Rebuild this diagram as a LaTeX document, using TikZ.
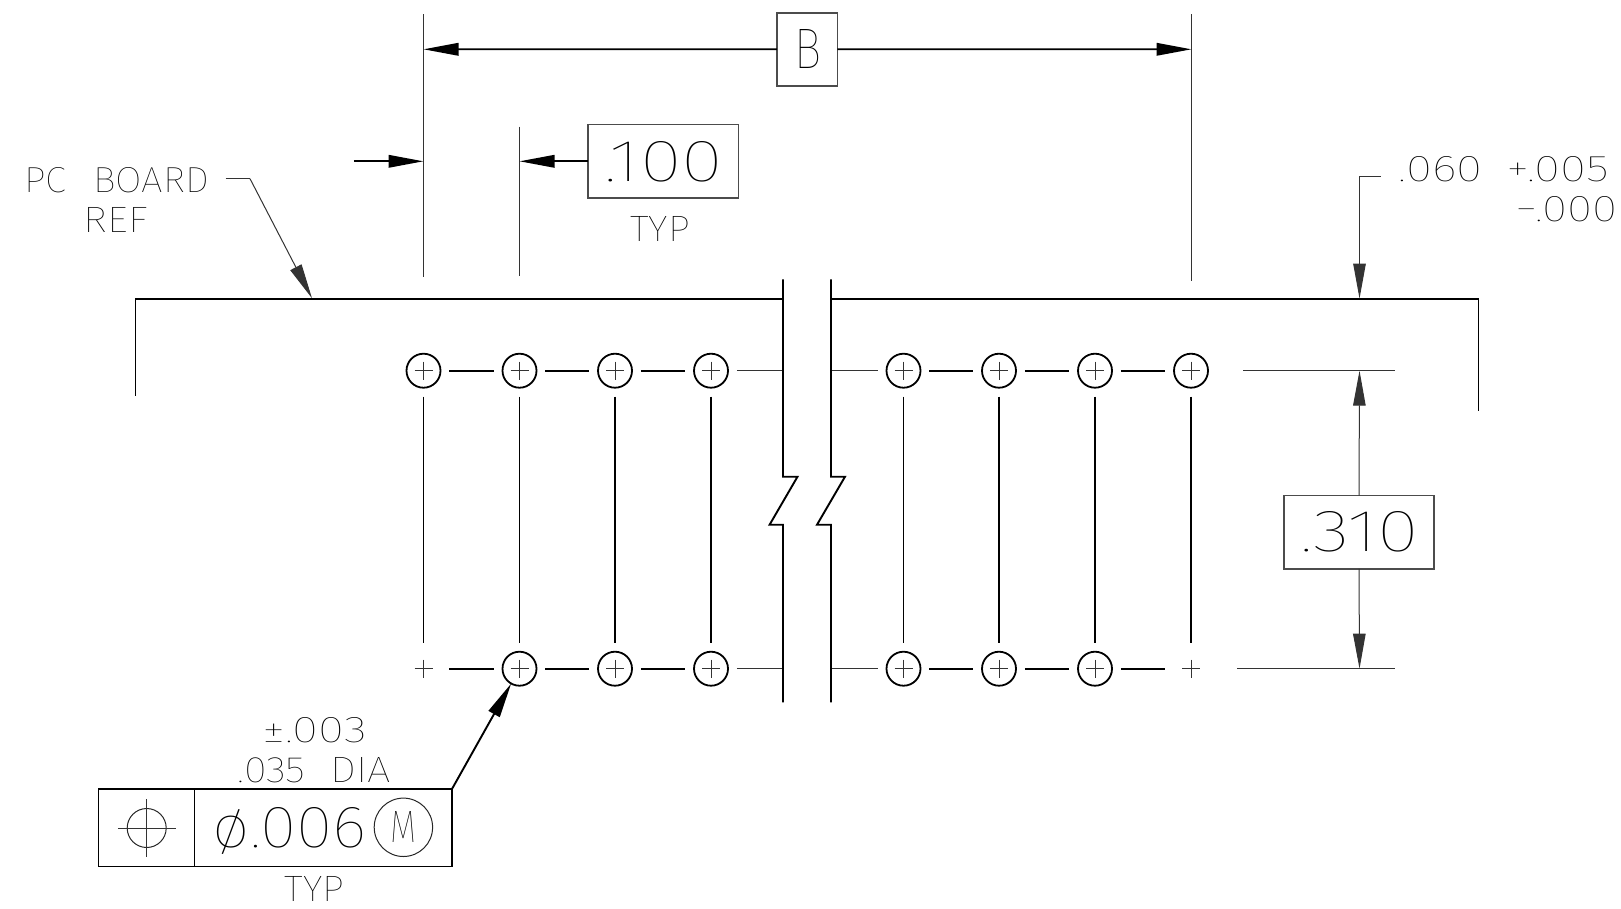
\documentclass[tikz,border=0pt]{standalone}
\usepackage{graphicx}
\usepackage{fontspec}
\usetikzlibrary{arrows.meta,calc}
\newfontfamily\thinf{Fira Sans Thin}
\newcommand{\ft}[3]{\resizebox{#1pt}{#2pt}{\thinf #3}}
\tikzset{
  txt/.style={inner sep=0pt,outer sep=0pt,anchor=center,text=black},
  thinl/.style={line width=1pt,draw=black!80},
  midl/.style={line width=1.9pt,draw=black},
  heavy/.style={line width=2.2pt,draw=black},
  boxn/.style={draw=black!70,line width=1.6pt,inner sep=0pt,outer sep=0pt,rectangle,fill=none},
  tip/.style={-{Triangle[length=35pt,width=12.5pt]}},
  hole/.style={circle,draw=black,line width=1.8pt,inner sep=0pt,outer sep=0pt,minimum size=34pt,
    path picture={\draw[line width=.9pt,draw=black!80]
      ($(path picture bounding box.center)+(-9,0)$)--($(path picture bounding box.center)+(9,0)$)
      ($(path picture bounding box.center)+(0,-9)$)--($(path picture bounding box.center)+(0,9)$);}},
  blank/.style={hole,draw=none},
  gapl/.style={shorten >=8.8pt,shorten <=8.8pt},
}
\begin{document}
\begin{tikzpicture}[x=1pt,y=-1pt]
\useasboundingbox (0,0) rectangle (1621,908);
% holes
\node[hole]  (t1) at (423.5,370.7) {};
\node[hole]  (t2) at (519.5,370.7) {};
\node[hole]  (t3) at (615,370.7) {};
\node[hole]  (t4) at (711,370.7) {};
\node[hole]  (t5) at (903.5,370.7) {};
\node[hole]  (t6) at (999,370.7) {};
\node[hole]  (t7) at (1095,370.7) {};
\node[hole]  (t8) at (1191,370.7) {};
\node[blank] (b1) at (423.5,668.7) {};
\node[hole]  (b2) at (519.5,668.7) {};
\node[hole]  (b3) at (615,668.7) {};
\node[hole]  (b4) at (711,668.7) {};
\node[hole]  (b5) at (903.5,668.7) {};
\node[hole]  (b6) at (999,668.7) {};
\node[hole]  (b7) at (1095,668.7) {};
\node[blank] (b8) at (1191,668.7) {};
% vertical and horizontal centre lines between holes
\foreach \i in {1,...,8}{\draw[midl,gapl] (t\i) -- (b\i);}
\foreach \a/\b in {1/2,2/3,3/4,5/6,6/7,7/8}{
  \draw[heavy,gapl] (t\a) -- (t\b);
  \draw[heavy,gapl] (b\a) -- (b\b);
}
% thin centre lines running to the break
\coordinate (brkL1) at (783,370.7);
\coordinate (brkR1) at (831,370.7);
\coordinate (brkL2) at (783,668.7);
\coordinate (brkR2) at (831,668.7);
\draw[thinl,shorten <=8.8pt] (t4) -- (brkL1);
\draw[thinl,shorten <=8.8pt] (b4) -- (brkL2);
\draw[thinl,shorten <=8.8pt] (t5) -- (brkR1);
\draw[thinl,shorten <=8.8pt] (b5) -- (brkR2);
% board outline
\draw[line width=1.9pt,miter limit=10] (135.5,395.7) -- (135.5,299.3) -- (783,299.3);
\draw[line width=1.9pt] (831,299.3) -- (1478.5,299.3) -- (1478.5,410.7);
\draw[line width=2.6pt] (1197,298.8) -- (1358.6,298.8);
% break lines
\draw[midl] (783,279.3) -- (783,476.7) -- (797.5,476.7) -- (769.6,524.7) -- (783,524.7) -- (783,702.3);
\draw[midl] (831,279.3) -- (831,476.7) -- (845,476.7) -- (817,524.7) -- (831,524.7) -- (831,702.3);
% dimension boxes
\node[boxn,minimum width=60.5pt,minimum height=73pt] (bbox) at (807.2,49.2) {};
\node[boxn,minimum width=150.8pt,minimum height=73.3pt] (hbox) at (663.2,161.3) {};
\node[boxn,minimum width=150pt,minimum height=73.3pt] (vbox) at (1359,532.3) {};
% extension lines
\coordinate (e1a) at (423.5,14.3);
\coordinate (e1b) at (423.5,276.7);
\coordinate (e2a) at (519.5,126.7);
\coordinate (e2b) at (519.5,275.7);
\coordinate (e3a) at (1191.5,14.3);
\coordinate (e3b) at (1191.5,280.7);
\draw[thinl] (e1a) -- (e1b);
\draw[thinl] (423.5,126.7) -- (e1b);
\draw[thinl] (e2a) -- (e2b);
\draw[thinl] (e3a) -- (e3b);
% B dimension
\coordinate (bl) at (423.5,49.3);
\coordinate (br) at (1191.5,49.3);
\draw[midl,tip] (bbox.west) -- (bl);
\draw[midl,tip] (bbox.east) -- (br);
% .100 dimension
\coordinate (hl0) at (353.8,161.3);
\coordinate (hl) at (423.5,161.3);
\coordinate (hr) at (519.5,161.3);
\draw[midl,tip] (hl0) -- (hl);
\draw[midl,tip] (hbox.west) -- (hr);
% PC board leader
\coordinate (pa) at (225.7,178.7);
\coordinate (pb) at (250,178.7);
\coordinate (pc) at (312,298.3);
\draw[thinl] (pa) -- (pb);
\draw[thinl,tip] (pb) -- (pc);
% .060 leader
\coordinate (ta) at (1380.8,176.7);
\coordinate (tb) at (1359.5,176.7);
\coordinate (tc) at (1359.5,298.6);
\draw[thinl,tip] (ta) -- (tb) -- (tc);
% .310 dimension
\coordinate (va) at (1359.5,370.7);
\coordinate (vb) at (1359.5,668.7);
\coordinate (ext1) at (1243,370.7);
\coordinate (ext2) at (1394.5,370.7);
\coordinate (ext3) at (1237,668.7);
\coordinate (ext4) at (1394.5,668.7);
\draw[thinl] (ext1) -- (ext2);
\draw[thinl] (ext3) -- (ext4);
\draw[thinl,tip] (vbox.north) -- (va);
\draw[thinl,tip] (vbox.south) -- (vb);
% feature control frame
\node[draw=black,line width=1.4pt,inner sep=0pt,outer sep=0pt,minimum width=96pt,minimum height=77.3pt] (fl) at (146.7,827.6) {};
\node[draw=black,line width=1.4pt,inner sep=0pt,outer sep=0pt,minimum width=257.3pt,minimum height=77.3pt] (fr) at (323.35,827.6) {};
\node[circle,draw=black!85,line width=1pt,inner sep=0pt,minimum size=39pt] (sym) at (146.7,828) {};
\coordinate (sl) at (117.8,828);
\coordinate (sr) at (176,828);
\coordinate (st) at (146.7,799);
\coordinate (sb) at (146.7,856.7);
\draw[thinl] (sl) -- (sr);
\draw[thinl] (st) -- (sb);
\node[circle,draw=black!85,line width=1pt,inner sep=0pt,minimum size=58.4pt] (mc) at (403.4,827.3) {\ft{26}{31}{M}};
\draw[midl,tip] (fr.north east) -- (b2);
% texts
\node[txt] (tB) at (807.5,48.8) {\ft{27}{39}{B}};
\node[txt] (t100) at (664,161.7) {\ft{118}{40}{.100}};
\node[txt] (ttyp1) at (660,229.2) {\ft{59.5}{25}{TYP}};
\node[txt] (tpc) at (116.6,180.2) {\ft{184.7}{25}{PC\hspace{.7em}BOARD}};
\node[txt] (tref) at (116,219.5) {\ft{64}{25}{REF}};
\node[txt] (t060) at (1504,169.2) {\ft{210}{25}{.060\hspace{.5em}+.005}};
\node[txt] (t000) at (1566,209.2) {\ft{102}{25}{−.000}};
\node[txt] (t310) at (1359.6,532) {\ft{118}{40}{.310}};
\node[txt] (t003) at (314.5,729.8) {\ft{104.3}{25}{±.003}};
\node[txt] (t035) at (314.3,769.8) {\ft{153.4}{25}{.035\hspace{.6em}DIA}};
\node[txt] (t006) at (289.8,827.3) {\ft{154}{40}{\smash{ø}.006}};
\node[txt] (ttyp2) at (314.7,889.3) {\ft{59.5}{25}{TYP}};
\end{tikzpicture}
\end{document}
